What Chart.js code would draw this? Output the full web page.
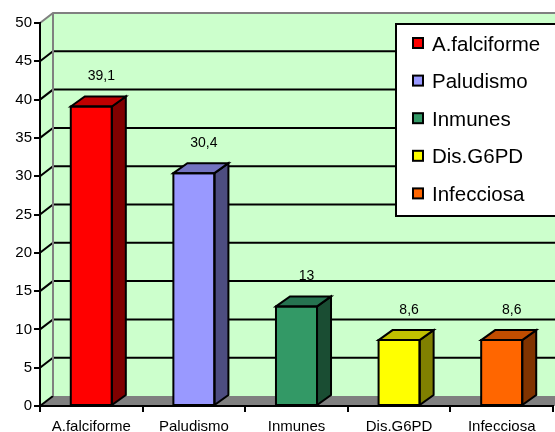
<!DOCTYPE html>
<html><head><meta charset="utf-8">
<script src="https://cdn.jsdelivr.net/npm/chart.js@4.4.1/dist/chart.umd.min.js"></script>
<style>html,body{margin:0;padding:0;background:#fff;overflow:hidden}</style>
</head><body>
<canvas id="c" width="555" height="432"></canvas>
<script>
const categories = ['A.falciforme', 'Paludismo', 'Inmunes', 'Dis.G6PD', 'Infecciosa'];
const values = [39.1, 30.4, 13, 8.6, 8.6];
const yTicks = [0, 5, 10, 15, 20, 25, 30, 35, 40, 45, 50];
const frontColors = ['#FF0000', '#9999FF', '#339966', '#FFFF00', '#FF6600'];
const topColors = ['#C00000', '#7373C0', '#267350', '#C0C000', '#C04D00'];
const sideColors = ['#800000', '#4D4D80', '#1A4D33', '#808000', '#803300'];

const FONT = '"Liberation Sans", Arial, sans-serif';
const WALL_DX = 13, WALL_DY = 10, BAR_DX = 14, BAR_DY = 10;

function poly(ctx, pts, fill, stroke, lw) {
  ctx.beginPath();
  ctx.moveTo(pts[0][0], pts[0][1]);
  for (let i = 1; i < pts.length; i++) ctx.lineTo(pts[i][0], pts[i][1]);
  ctx.closePath();
  if (fill) { ctx.fillStyle = fill; ctx.fill(); }
  if (stroke) { ctx.strokeStyle = stroke; ctx.lineWidth = lw || 2; ctx.lineJoin = 'miter'; ctx.stroke(); }
}

const walls3d = {
  id: 'walls3d',
  beforeDraw(chart) {
    const ctx = chart.ctx, ys = chart.scales.y, ca = chart.chartArea;
    const L = ca.left, R = ca.right;
    const B = ys.getPixelForValue(yTicks[0]);
    const T = ys.getPixelForValue(yTicks[yTicks.length - 1]);
    ctx.save();
    ctx.fillStyle = '#fff';
    ctx.fillRect(0, 0, chart.width, chart.height);
    // back wall
    ctx.fillStyle = '#CCFFCC';
    ctx.fillRect(L + WALL_DX, T - WALL_DY, R - L + 20, B - T);
    // left wall
    poly(ctx, [[L, B], [L + WALL_DX, B - WALL_DY], [L + WALL_DX, T - WALL_DY], [L, T]], '#CCFFCC');
    // floor
    poly(ctx, [[L, B], [R + 20, B], [R + 20 + WALL_DX, B - WALL_DY], [L + WALL_DX, B - WALL_DY]], '#808080');
    // grid lines
    ctx.lineWidth = 2;
    ctx.strokeStyle = '#000';
    yTicks.forEach((v, i) => {
      const y = ys.getPixelForValue(v);
      if (i === yTicks.length - 1) return;
      ctx.beginPath();
      ctx.moveTo(L, y);
      ctx.lineTo(L + WALL_DX, y - WALL_DY);
      if (i > 0) ctx.lineTo(R + 30, y - WALL_DY);
      ctx.stroke();
    });
    // wall edges (gray)
    ctx.strokeStyle = '#808080';
    ctx.beginPath();
    ctx.moveTo(L, T);
    ctx.lineTo(L + WALL_DX, T - WALL_DY);
    ctx.lineTo(R + 30, T - WALL_DY);
    ctx.moveTo(L + WALL_DX, T - WALL_DY);
    ctx.lineTo(L + WALL_DX, B - WALL_DY);
    ctx.stroke();
    ctx.restore();
  },
  afterDatasetsDraw(chart) {
    const ctx = chart.ctx;
    const meta = chart.getDatasetMeta(0);
    ctx.save();
    meta.data.forEach((el, i) => {
      const p = el.getProps(['x', 'y', 'base', 'width'], true);
      const l = p.x - p.width / 2, r = p.x + p.width / 2, t = p.y, b = p.base;
      poly(ctx, [[r, t], [r + BAR_DX, t - BAR_DY], [r + BAR_DX, b - BAR_DY], [r, b]], sideColors[i], '#000', 2);
      poly(ctx, [[l, t], [l + BAR_DX, t - BAR_DY], [r + BAR_DX, t - BAR_DY], [r, t]], topColors[i], '#000', 2);
      poly(ctx, [[l, t], [r, t], [r, b], [l, b]], null, '#000', 2);
      ctx.fillStyle = '#000';
      ctx.font = '14px ' + FONT;
      ctx.textAlign = 'center';
      ctx.textBaseline = 'middle';
      ctx.fillText(String(values[i]).replace('.', ','), p.x + 10, t - 30);
    });
    ctx.restore();
  },
  afterDraw(chart) {
    const ctx = chart.ctx;
    ctx.save();
    ctx.fillStyle = '#fff';
    ctx.fillRect(396, 24, 200, 192);
    ctx.strokeStyle = '#000';
    ctx.lineWidth = 2;
    ctx.strokeRect(396, 24, 200, 192);
    ctx.font = '20.5px ' + FONT;
    ctx.textAlign = 'left';
    ctx.textBaseline = 'middle';
    categories.forEach((c, i) => {
      const cy = 43 + i * 37.6;
      ctx.fillStyle = frontColors[i];
      ctx.fillRect(413, cy - 5, 10, 10);
      ctx.strokeStyle = '#000';
      ctx.lineWidth = 2;
      ctx.strokeRect(413, cy - 5, 10, 10);
      ctx.fillStyle = '#000';
      ctx.fillText(c, 432, cy + 2);
    });
    ctx.restore();
  }
};

new Chart(document.getElementById('c'), {
  type: 'bar',
  data: {
    labels: categories,
    datasets: [{
      data: values,
      backgroundColor: frontColors,
      borderColor: '#000',
      borderWidth: 0,
      borderSkipped: false,
      categoryPercentage: 1,
      barPercentage: 0.4
    }]
  },
  options: {
    responsive: false,
    animation: false,
    devicePixelRatio: 1,
    layout: { padding: { top: 23, right: 2, left: 0, bottom: 0 } },
    plugins: { legend: { display: false }, tooltip: { enabled: false } },
    scales: {
      x: {
        grid: { display: true, drawOnChartArea: false, drawTicks: true, tickLength: 6, color: '#000', lineWidth: 2, offset: true },
        border: { display: true, color: '#000', width: 2 },
        ticks: { color: '#000', font: { family: FONT, size: 15 }, padding: 6, maxRotation: 0, autoSkip: false },
        afterFit(s) { s.height = 26; }
      },
      y: {
        min: 0, max: 50,
        afterBuildTicks(s) { s.ticks = yTicks.map(v => ({ value: v })); },
        grid: { display: true, drawOnChartArea: false, drawTicks: true, tickLength: 6, color: '#000', lineWidth: 2 },
        border: { display: true, color: '#000', width: 2 },
        ticks: { color: '#000', font: { family: FONT, size: 15 }, padding: 2 },
        afterFit(s) { s.width = 40; }
      }
    }
  },
  plugins: [walls3d]
});
</script>
</body></html>
